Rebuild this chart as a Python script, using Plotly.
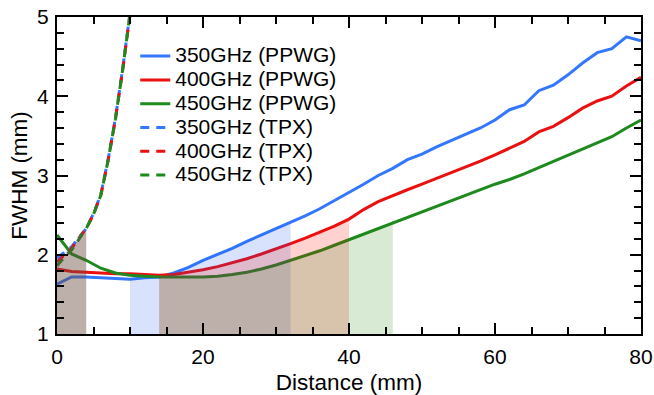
import plotly.graph_objects as go

# ---------------- data ----------------
x_ppwg = list(range(0, 82, 2))
fwhm_350_ppwg = [1.63, 1.72, 1.72, 1.71, 1.70, 1.69, 1.71, 1.72, 1.77, 1.84,
                 1.93, 2.00, 2.08, 2.17, 2.25, 2.33, 2.40, 2.49, 2.58, 2.68,
                 2.78, 2.89, 3.00, 3.09, 3.20, 3.27, 3.36, 3.44, 3.51, 3.60,
                 3.70, 3.83, 3.89, 4.07, 4.14, 4.27, 4.42, 4.55, 4.60, 4.75, 4.70]
fwhm_400_ppwg = [1.82, 1.79, 1.78, 1.77, 1.76, 1.76, 1.75, 1.74, 1.75, 1.78,
                 1.81, 1.85, 1.90, 1.95, 2.01, 2.07, 2.14, 2.21, 2.28, 2.36,
                 2.45, 2.57, 2.67, 2.75, 2.82, 2.89, 2.96, 3.03, 3.10, 3.18,
                 3.26, 3.34, 3.43, 3.55, 3.62, 3.73, 3.85, 3.94, 4.00, 4.13, 4.24]
fwhm_450_ppwg = [2.25, 2.01, 1.93, 1.83, 1.77, 1.74, 1.73, 1.72, 1.72, 1.72,
                 1.72, 1.73, 1.75, 1.78, 1.82, 1.87, 1.93, 1.99, 2.05, 2.12,
                 2.19, 2.26, 2.33, 2.40, 2.47, 2.54, 2.61, 2.68, 2.75, 2.82,
                 2.89, 2.95, 3.02, 3.10, 3.18, 3.26, 3.34, 3.42, 3.49, 3.60, 3.70]

x_tpx = [0, 1, 2, 3, 4, 5, 6, 7, 8, 9, 10]
fwhm_350_tpx = [1.96, 2.03, 2.10, 2.22, 2.33, 2.52, 2.76, 3.20, 3.72, 4.35, 5.05]
fwhm_400_tpx = [1.91, 2.00, 2.08, 2.21, 2.33, 2.51, 2.75, 3.19, 3.71, 4.33, 5.03]
fwhm_450_tpx = [1.86, 1.97, 2.06, 2.20, 2.33, 2.51, 2.75, 3.19, 3.71, 4.34, 5.04]

series_names = ["350GHz (PPWG)", "400GHz (PPWG)", "450GHz (PPWG)",
                "350GHz (TPX)", "400GHz (TPX)", "450GHz (TPX)"]

# shaded ranges (distance, mm)
tpx_shade = (0, 4)
ppwg_shade = {"350": (10, 32), "400": (14, 40), "450": (14, 46)}

# ---------------- style ----------------
BLUE = "rgb(51,119,255)"
RED = "rgb(235,16,16)"
GREEN = "rgb(30,138,30)"
FILL = {"350": "rgba(26,84,237,0.17)", "400": "rgba(255,13,0,0.19)", "450": "rgba(26,131,2,0.17)"}
FONT = "Liberation Sans, Arial, Helvetica, sans-serif"

fig = go.Figure()

ppwg = {"350": fwhm_350_ppwg, "400": fwhm_400_ppwg, "450": fwhm_450_ppwg}
tpx = {"350": fwhm_350_tpx, "400": fwhm_400_tpx, "450": fwhm_450_tpx}
cols = {"350": BLUE, "400": RED, "450": GREEN}


def label(s):
    return '<span style="font-size:21px">' + s + '</span>'


for i, k in enumerate(["350", "400", "450"]):
    fig.add_trace(go.Scatter(x=x_ppwg, y=ppwg[k], mode="lines", name=label(series_names[i]),
                             line=dict(color=cols[k], width=3)))
for i, k in enumerate(["350", "400", "450"]):
    fig.add_trace(go.Scatter(x=x_tpx, y=tpx[k], mode="lines", name=label(series_names[3 + i]),
                             line=dict(color=cols[k], width=3, dash="9px,7px")))

# fills (drawn over the lines)
for k in ["350", "400", "450"]:
    a, b = tpx_shade
    xs = [x for x in x_tpx if a <= x <= b]
    ys = [y for x, y in zip(x_tpx, tpx[k]) if a <= x <= b]
    fig.add_trace(go.Scatter(x=xs, y=ys, mode="none", fill="tozeroy",
                             fillcolor=FILL[k], showlegend=False, hoverinfo="skip"))
for k in ["350", "400", "450"]:
    a, b = ppwg_shade[k]
    xs = [x for x in x_ppwg if a <= x <= b]
    ys = [y for x, y in zip(x_ppwg, ppwg[k]) if a <= x <= b]
    fig.add_trace(go.Scatter(x=xs, y=ys, mode="none", fill="tozeroy",
                             fillcolor=FILL[k], showlegend=False, hoverinfo="skip"))

axis_common = dict(
    showline=True, linecolor="black", linewidth=2, mirror="ticks",
    ticks="inside", ticklen=11, tickwidth=2, tickcolor="black",
    showgrid=False, zeroline=False, automargin=False, ticklabeloverflow="allow",
    tickfont=dict(family=FONT, size=21, color="black"),
)

fig.update_xaxes(range=[0, 80], dtick=20, tick0=0, ticklabelstandoff=3,
                 minor=dict(dtick=5, ticks="inside", ticklen=7, tickwidth=2, tickcolor="black", showgrid=False),
                 title=dict(text="Distance (mm)", font=dict(family=FONT, size=22.5, color="black"), standoff=9),
                 **axis_common)
fig.update_yaxes(range=[1, 5], dtick=1, tick0=0, ticklabelstandoff=2,
                 minor=dict(dtick=0.2, ticks="inside", ticklen=7, tickwidth=2, tickcolor="black", showgrid=False),
                 title=dict(text="FWHM (mm)", font=dict(family=FONT, size=22.5, color="black"), standoff=3),
                 **axis_common)

fig.update_layout(
    width=654, height=395,
    margin=dict(l=57, r=13, t=17, b=61),
    plot_bgcolor="white", paper_bgcolor="white",
    font=dict(family=FONT, color="black"),
    legend=dict(x=0.134, y=0.93, xanchor="left", yanchor="top",
                bgcolor="rgba(0,0,0,0)", font=dict(family=FONT, size=16, color="black"),
                tracegroupgap=0, itemwidth=30),
)

# remove the default page margin so the 654x395 figure fills the window exactly
fig.write_html("out.html",
               config={"displayModeBar": False},
               post_script="document.body.style.margin='0';document.body.style.overflow='hidden';")
